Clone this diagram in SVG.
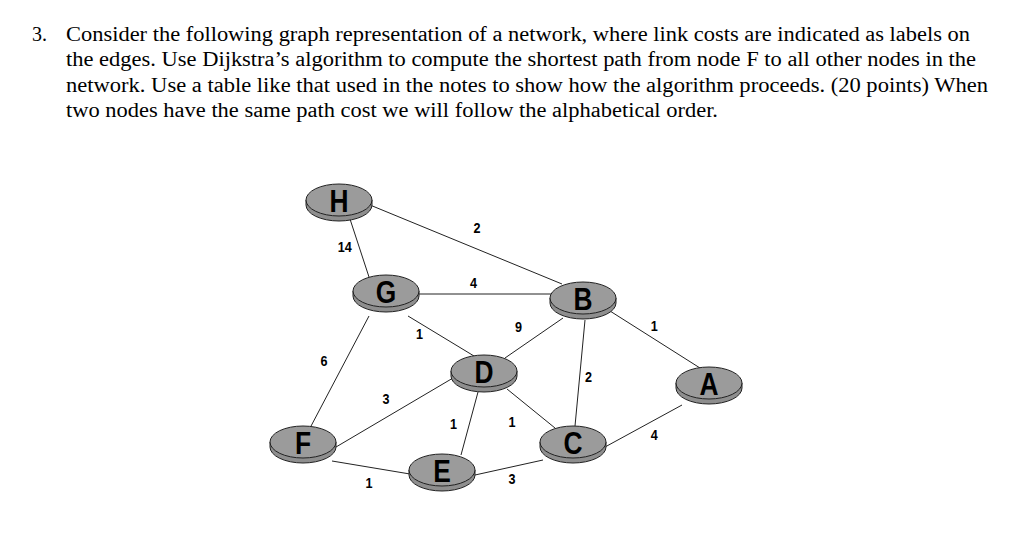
<svg xmlns="http://www.w3.org/2000/svg" width="1024" height="538" viewBox="0 0 1024 538">
<style>
.q{font-family:"Liberation Serif","Times New Roman",serif;font-size:20px;fill:#000}
.e{stroke:#222;stroke-width:1;fill:none}
.lb{font-family:"Liberation Sans",Arial,sans-serif;font-size:14px;font-weight:bold;fill:#000;text-anchor:middle}
.nl{font-family:"Liberation Sans",Arial,sans-serif;font-size:31px;font-weight:bold;fill:#000;text-anchor:middle}
.top{fill:#9b9b9b;stroke:#222;stroke-width:1}
.side{fill:#8e8e8e;stroke:#222;stroke-width:1}
</style>
<defs>
<g id="disk">
<path class="side" d="M-33,0 L-33,5 A33 16 0 0 0 33,5 L33,0 Z"/>
<ellipse class="top" cx="0" cy="0" rx="33" ry="16"/>
</g>
</defs>
<rect width="1024" height="538" fill="#fff"/>
<g id="question">
<text class="q" x="32" y="41">3.</text>
<text class="q" x="66" y="41" textLength="904" lengthAdjust="spacingAndGlyphs">Consider the following graph representation of a network, where link costs are indicated as labels on</text>
<text class="q" x="66" y="66" textLength="910" lengthAdjust="spacingAndGlyphs">the edges. Use Dijkstra’s algorithm to compute the shortest path from node F to all other nodes in the</text>
<text class="q" x="66" y="92" textLength="922" lengthAdjust="spacingAndGlyphs">network. Use a table like that used in the notes to show how the algorithm proceeds. (20 points) When</text>
<text class="q" x="66" y="117" textLength="652" lengthAdjust="spacingAndGlyphs">two nodes have the same path cost we will follow the alphabetical order.</text>
</g>
<g id="connectors">
<line class="e" x1="349" y1="216" x2="369" y2="277"/>
<line class="e" x1="370" y1="205" x2="562" y2="284"/>
<line class="e" x1="418" y1="294" x2="551" y2="294"/>
<line class="e" x1="408" y1="316" x2="474" y2="356"/>
<line class="e" x1="563" y1="318" x2="505" y2="358"/>
<line class="e" x1="585" y1="320" x2="575" y2="426"/>
<line class="e" x1="610" y1="311" x2="700" y2="368"/>
<line class="e" x1="369" y1="316" x2="310" y2="428"/>
<line class="e" x1="453" y1="378" x2="336" y2="447"/>
<line class="e" x1="478" y1="392" x2="461" y2="455"/>
<line class="e" x1="507" y1="389" x2="555" y2="428"/>
<line class="e" x1="332" y1="461" x2="410" y2="474"/>
<line class="e" x1="475" y1="475" x2="543" y2="460"/>
<line class="e" x1="605" y1="447" x2="682" y2="405"/>
<g transform="scale(0.9,1)">
<text class="lb" x="530" y="233">2</text>
<text class="lb" x="383" y="252">14</text>
<text class="lb" x="526" y="288">4</text>
<text class="lb" x="576" y="332">9</text>
<text class="lb" x="727" y="331">1</text>
<text class="lb" x="466" y="339">1</text>
<text class="lb" x="360" y="366">6</text>
<text class="lb" x="654" y="382">2</text>
<text class="lb" x="429" y="404">3</text>
<text class="lb" x="504" y="429">1</text>
<text class="lb" x="569" y="427">1</text>
<text class="lb" x="727" y="440">4</text>
<text class="lb" x="410" y="488">1</text>
<text class="lb" x="569" y="484">3</text>
</g>
</g>
<g id="node-H"><use href="#disk" x="339" y="200"/><text class="nl" transform="translate(339,212) scale(0.85,1)">H</text></g>
<g id="node-G"><use href="#disk" x="386" y="291"/><text class="nl" transform="translate(386,303) scale(0.85,1)">G</text></g>
<g id="node-B"><use href="#disk" x="583" y="298"/><text class="nl" transform="translate(583,310) scale(0.85,1)">B</text></g>
<g id="node-D"><use href="#disk" x="484" y="371"/><text class="nl" transform="translate(484,383) scale(0.85,1)">D</text></g>
<g id="node-A"><use href="#disk" x="709" y="383"/><text class="nl" transform="translate(709,395) scale(0.85,1)">A</text></g>
<g id="node-F"><use href="#disk" x="303" y="442"/><text class="nl" transform="translate(303,454) scale(0.85,1)">F</text></g>
<g id="node-E"><use href="#disk" x="442" y="470"/><text class="nl" transform="translate(442,482) scale(0.85,1)">E</text></g>
<g id="node-C"><use href="#disk" x="573" y="442"/><text class="nl" transform="translate(573,454) scale(0.85,1)">C</text></g>
</svg>
